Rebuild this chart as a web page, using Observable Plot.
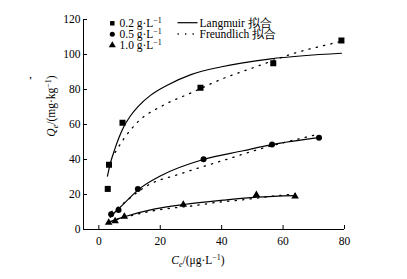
<!DOCTYPE html>
<html><head><meta charset="utf-8">
<script src="https://cdn.jsdelivr.net/npm/d3@7"></script>
<script src="https://cdn.jsdelivr.net/npm/@observablehq/plot@0.6"></script>
<style>
body{margin:0;background:#fff;}
#wrap{position:relative;width:407px;height:279px;font-family:"Liberation Serif","Times New Roman",serif;}
#wrap svg{position:absolute;left:0;top:0;}
</style></head><body><div id="wrap"></div>
<script>
// ---- data ----
const xDomain = [-5, 80];
const yDomain = [0, 120];
const xTicks = [0, 20, 40, 60, 80];
const yTicks = [0, 20, 40, 60, 80, 100, 120];
const seriesNames = ["0.2 g·L", "0.5 g·L", "1.0 g·L"];
const fitNames = ["Langmuir 拟合", "Freundlich 拟合"];

// observed points
const obsC_02 = [2.9, 3.3, 7.7, 33.1, 56.8, 79.0];
const obsQ_02 = [23.2, 37.0, 61.0, 81.0, 95.0, 108.0];
const obsC_05 = [4.0, 6.4, 12.7, 34.1, 56.4, 71.7];
const obsQ_05 = [8.7, 11.2, 23.2, 40.2, 48.6, 52.5];
const obsC_10 = [3.2, 5.3, 8.3, 27.5, 51.3, 63.9];
const obsQ_10 = [4.0, 4.8, 7.4, 14.2, 19.8, 19.0];

// Langmuir fit curves
const lanC_02 = [2.8, 3.7, 5.3, 8.0, 10.2, 12.9, 16.7, 22.1, 30.0, 40.0, 56.0, 79.0];
const lanQ_02 = [30.5, 37.5, 46.5, 58.3, 64.7, 70.5, 76.5, 82.3, 88.5, 93.0, 97.5, 100.7];
const lanC_05 = [3.7, 5.3, 8.0, 12.7, 20.5, 34.0, 47.0, 56.3, 71.5];
const lanQ_05 = [7.0, 10.0, 14.5, 22.5, 31.0, 40.0, 45.0, 48.5, 52.5];
const lanC_10 = [3.1, 5.3, 8.6, 18.3, 27.6, 40.6, 51.5, 64.0];
const lanQ_10 = [4.0, 5.5, 7.4, 11.8, 14.3, 16.8, 18.5, 19.4];

// Freundlich fit curves
const freC_02 = [5.3, 8.0, 12.4, 21.0, 29.7, 41.5, 50.4, 62.3, 75.3, 79.0];
const freQ_02 = [44.0, 51.5, 61.0, 71.0, 77.8, 87.0, 92.5, 100.0, 106.0, 107.5];
const freC_05 = [4.0, 8.0, 12.7, 16.2, 26.0, 36.8, 40.6, 51.5, 64.5, 71.5];
const freQ_05 = [10.0, 15.0, 21.5, 25.5, 31.5, 37.5, 39.5, 45.5, 51.5, 54.5];
const freC_10 = [3.5, 8.6, 18.3, 31.4, 38.4, 46.0, 58.0, 64.0];
const freQ_10 = [4.5, 7.0, 10.9, 13.7, 15.5, 16.8, 19.3, 20.3];

// ---- build tables ----
const zip = (C, Q, s) => C.map((c, i) => ({c, q: Q[i], s}));
const obs02 = zip(obsC_02, obsQ_02, seriesNames[0]);
const obs05 = zip(obsC_05, obsQ_05, seriesNames[1]);
const obs10 = zip(obsC_10, obsQ_10, seriesNames[2]);
const lan = [...zip(lanC_02, lanQ_02, seriesNames[0]), ...zip(lanC_05, lanQ_05, seriesNames[1]), ...zip(lanC_10, lanQ_10, seriesNames[2])];
const fre = [...zip(freC_02, freQ_02, seriesNames[0]), ...zip(freC_05, freQ_05, seriesNames[1]), ...zip(freC_10, freQ_10, seriesNames[2])];

const plot = Plot.plot({
  width: 407, height: 279,
  marginLeft: 83, marginRight: 63, marginTop: 19, marginBottom: 50,
  style: {fontFamily: '"Liberation Serif","Times New Roman",serif', fontSize: "11.5px", background: "transparent", color: "#000", overflow: "visible"},
  x: {domain: xDomain},
  y: {domain: yDomain},
  marks: [
    Plot.ruleX([xDomain[0]], {stroke: "#000", strokeWidth: 1}),
    Plot.ruleY([yDomain[0]], {stroke: "#000", strokeWidth: 1}),
    Plot.ruleX(xTicks, {x: d => d, y1: yDomain[0], y2: yDomain[0], insetBottom: 4, stroke: "#000"}),
    Plot.ruleY(yTicks, {y: d => d, x1: xDomain[0], x2: xDomain[0], insetLeft: 4, stroke: "#000"}),
    Plot.axisX(xTicks, {tickSize: 0, tickPadding: 7, label: null, fill: "#000"}),
    Plot.axisY(yTicks, {tickSize: 0, tickPadding: 3, label: null, fill: "#000"}),
    Plot.line(fre, {x: "c", y: "q", z: "s", curve: "monotone-x", stroke: "#000", strokeWidth: 1.3, strokeDasharray: "1.3,6.2"}),
    Plot.line(lan, {x: "c", y: "q", z: "s", curve: "monotone-x", stroke: "#000", strokeWidth: 1.2}),
    Plot.dot(obs02, {x: "c", y: "q", symbol: "square", r: 3.4, fill: "#000", stroke: "none"}),
    Plot.dot(obs05, {x: "c", y: "q", symbol: "circle", r: 3.0, fill: "#000", stroke: "none"}),
    Plot.dot(obs10, {x: "c", y: "q", symbol: "triangle", r: 2.8, fill: "#000", stroke: "none"})
  ]
});
document.getElementById("wrap").appendChild(plot);

// ---- overlay: legend and axis titles ----
const ov = d3.select("#wrap").append("svg")
  .attr("width", 407).attr("height", 279)
  .style("font-family", '"Liberation Serif","Times New Roman",serif')
  .style("font-size", "11.5px");

const symbols = [d3.symbolSquare, d3.symbolCircle, d3.symbolTriangle];
const symSizes = [20, 20, 22];
seriesNames.forEach((name, i) => {
  const y = 23.3 + i * 11;
  ov.append("path").attr("d", d3.symbol(symbols[i], symSizes[i])()).attr("transform", `translate(112.3,${y})`).attr("fill", "#000");
  const t = ov.append("text").attr("x", 119.5).attr("y", y + 3.8).attr("fill", "#000");
  t.append("tspan").text(name);
  t.append("tspan").attr("dy", -4).attr("font-size", "8px").text("−1");
});
// fit legend
ov.append("line").attr("x1", 177.5).attr("x2", 197.5).attr("y1", 22.7).attr("y2", 22.7).attr("stroke", "#000").attr("stroke-width", 1.2);
ov.append("line").attr("x1", 177.5).attr("x2", 197.5).attr("y1", 34).attr("y2", 34).attr("stroke", "#000").attr("stroke-width", 1.3).attr("stroke-dasharray", "1.3,6.2");
fitNames.forEach((name, i) => {
  ov.append("text").attr("x", 199.5).attr("y", 26.7 + i * 11.3).attr("fill", "#000").text(name);
});

// x title
const xt = ov.append("text").attr("x", 198).attr("y", 264).attr("text-anchor", "middle").attr("fill", "#000");
xt.append("tspan").attr("font-style", "italic").text("C");
xt.append("tspan").attr("font-style", "italic").attr("font-size", "8px").attr("dy", 2.5).text("e");
xt.append("tspan").attr("dy", -2.5).text("/(μg·L");
xt.append("tspan").attr("font-size", "8px").attr("dy", -4).text("−1");
xt.append("tspan").attr("dy", 4).text(")");

// y title
const yt = ov.append("text").attr("transform", "translate(55,106) rotate(-90)").attr("text-anchor", "middle").attr("fill", "#000");
yt.append("tspan").attr("font-style", "italic").text("Q");
yt.append("tspan").attr("font-style", "italic").attr("font-size", "8px").attr("dy", 2.5).text("e");
yt.append("tspan").attr("dy", -2.5).text("/(mg·kg");
yt.append("tspan").attr("font-size", "8px").attr("dy", -4).text("−1");
yt.append("tspan").attr("dy", 4).text(")");

// small stray mark present in the reference
ov.append("text").attr("x", 29).attr("y", 84).attr("font-size", "11px").attr("font-weight", "bold").attr("fill", "#000").text("'");
</script></body></html>
